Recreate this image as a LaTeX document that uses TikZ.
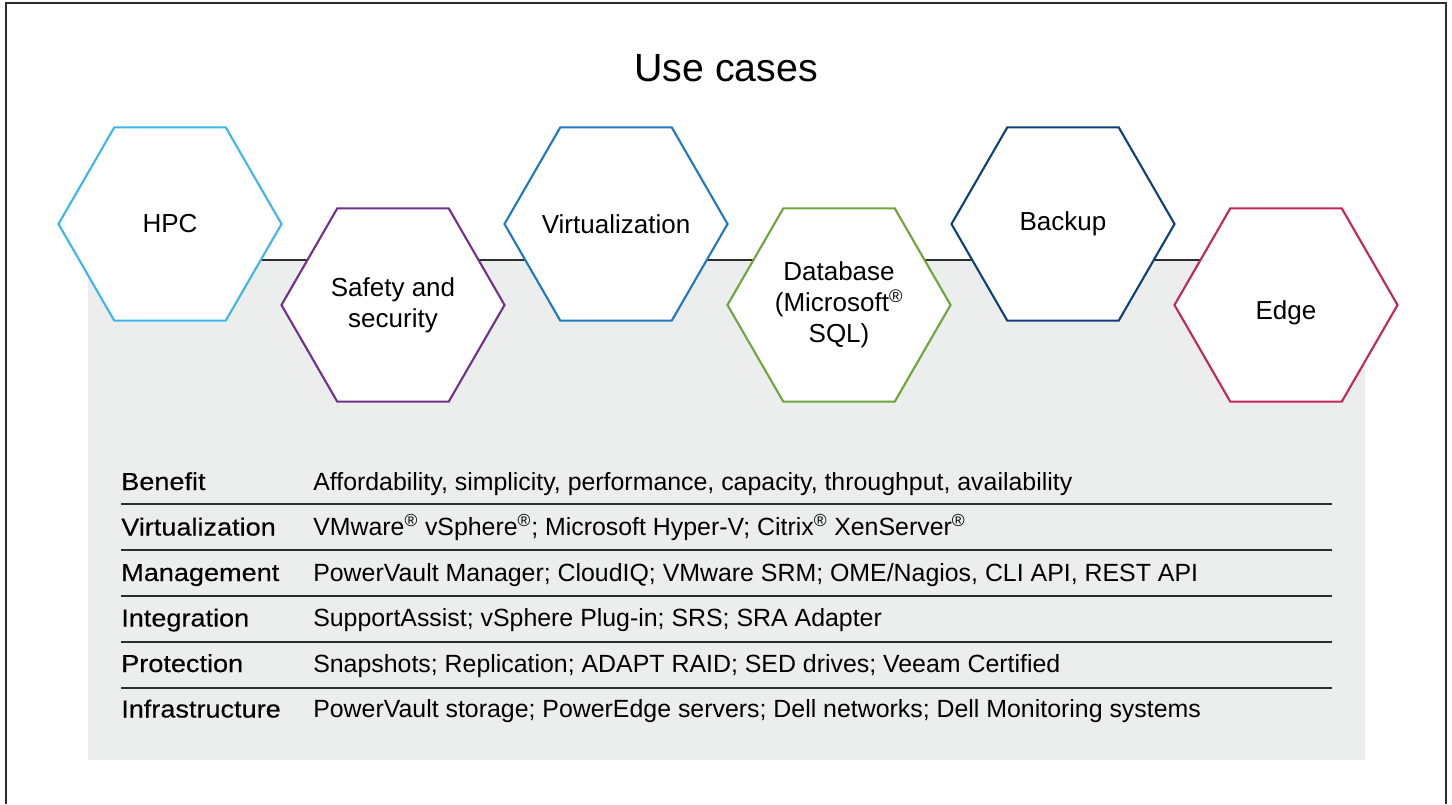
\documentclass[tikz,border=0pt]{standalone}
\usepackage{fontspec}
\setmainfont{Liberation Sans}
\newfontfamily\labelfont[FakeBold=0.25,FakeStretch=1.1]{Liberation Sans}
\usetikzlibrary{shapes.geometric}

\definecolor{hpcblue}{RGB}{65,182,230}
\definecolor{safetypurple}{RGB}{112,48,140}
\definecolor{virtblue}{RGB}{31,120,193}
\definecolor{dbgreen}{RGB}{110,165,60}
\definecolor{backupnavy}{RGB}{14,65,120}
\definecolor{edgered}{RGB}{196,38,90}
\definecolor{panelgray}{RGB}{236,238,237}
\definecolor{rulegray}{RGB}{45,45,45}

\tikzset{
  hexa/.style={regular polygon, regular polygon sides=6, draw=#1, fill=white,
    line width=1.5pt, minimum size=5.575cm, inner sep=-0.4cm, outer sep=0pt,
    align=center, font=\fontsize{18.5}{22}\selectfont},
  rowlabel/.style={anchor=base west, inner sep=0pt, font=\labelfont\fontsize{17.5}{20}\selectfont},
  rowvalue/.style={anchor=base west, inner sep=0pt, font=\fontsize{17.7}{20}\selectfont},
  rowline/.style={rulegray, line width=1pt}
}

\begin{document}
\begin{tikzpicture}[x=0.025cm,y=-0.025cm]
            \useasboundingbox (0,0) rectangle (1452,804);
            %\draw[very thin,color=gray] (0,0) grid[step=100] (1452,804);
            % frame, open at the bottom
            \draw[rulegray,line width=1.4pt] (6,804) -- (6,3) -- (1446,3) -- (1446,804);
            \node (title) at (726,68) {\fontsize{28}{32}\selectfont Use cases};
            % gray panel behind the table
            \fill[panelgray] (88,260) rectangle (1365,760);
            \draw[rulegray,line width=1.4pt] (88,260) -- (1365,260);
            % hexagons
            \node[hexa=hpcblue] (hpc) at (170,224) {HPC};
            \node[hexa=safetypurple] (safety) at (393,305) {Safety and\\security};
            \node[hexa=virtblue] (virt) at (616,224) {Virtualization};
            \node[hexa=dbgreen] (db) at (839,305) {Database\\(Microsoft\textsuperscript{®}\\SQL)};
            \node[hexa=backupnavy] (backup) at (1063,224) {Backup};
            \node[hexa=edgered] (edge) at (1286,305) {\raisebox{-10.6pt}[0pt][0pt]{Edge}};
            % table
            \node[rowlabel] (benefit) at (121,490) {Benefit};
            \node[rowvalue] (benefitval) at (313,490) {Affordability, simplicity, performance, capacity, throughput, availability};
            \draw[rowline] (121,504) -- (1332,504);
            \node[rowlabel] (virtual) at (121,535.5) {Virtualization};
            \node[rowvalue] (virtualval) at (313,535.5) {VMware\textsuperscript{®} vSphere\textsuperscript{®}; Microsoft Hyper-V; Citrix\textsuperscript{®} XenServer\textsuperscript{®}};
            \draw[rowline] (121,550) -- (1332,550);
            \node[rowlabel] (manage) at (121,581) {Management};
            \node[rowvalue] (manageval) at (313,581) {PowerVault Manager; CloudIQ; VMware SRM; OME/Nagios, CLI API, REST API};
            \draw[rowline] (121,596) -- (1332,596);
            \node[rowlabel] (integ) at (121,626.5) {Integration};
            \node[rowvalue] (integval) at (313,626.5) {SupportAssist; vSphere Plug-in; SRS; SRA Adapter};
            \draw[rowline] (121,642) -- (1332,642);
            \node[rowlabel] (protect) at (121,672) {Protection};
            \node[rowvalue] (protectval) at (313,672) {Snapshots; Replication; ADAPT RAID; SED drives; Veeam Certified};
            \draw[rowline] (121,688) -- (1332,688);
            \node[rowlabel] (infra) at (121,717.5) {Infrastructure};
            \node[rowvalue] (infraval) at (313,717.5) {PowerVault storage; PowerEdge servers; Dell networks; Dell Monitoring systems};
        \end{tikzpicture}
\end{document}
